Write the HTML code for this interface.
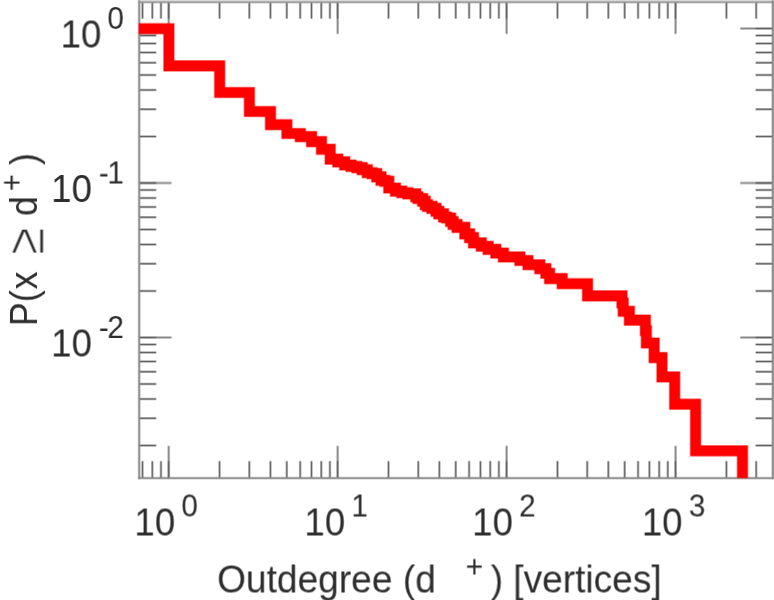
<!DOCTYPE html>
<html lang="en">
<head>
<meta charset="utf-8">
<title>Outdegree distribution</title>
<style>
html, body { margin: 0; padding: 0; background: #ffffff; }
body { width: 774px; height: 600px; overflow: hidden; }
svg { display: block; }
</style>
</head>
<body>
<svg width="774" height="600" viewBox="0 0 774 600">
<defs><clipPath id="plot"><rect x="138.6" y="1.6" width="634.0000000000001" height="476.5"/></clipPath></defs>
<rect x="0" y="0" width="774" height="600" fill="#ffffff"/>
<g id="chart" transform="translate(-0.4 -0.4)">
<rect x="-2" y="-2" width="778" height="604" fill="#ffffff"/>
<path d="M168.70 478.1 V445.80M168.70 1.6 V33.90M337.65 478.1 V445.80M337.65 1.6 V33.90M506.60 478.1 V445.80M506.60 1.6 V33.90M675.55 478.1 V445.80M675.55 1.6 V33.90M139.2 337.50 H171.50M772.6 337.50 H740.30M139.2 183.00 H171.50M772.6 183.00 H740.30M139.2 28.50 H171.50M772.6 28.50 H740.30" fill="none" stroke="#888888" stroke-width="2.0"/>
<path d="M142.53 478.1 V461.10M142.53 1.6 V18.60M152.33 478.1 V461.10M152.33 1.6 V18.60M160.97 478.1 V461.10M160.97 1.6 V18.60M168.70 478.1 V461.10M168.70 1.6 V18.60M219.56 478.1 V461.10M219.56 1.6 V18.60M249.31 478.1 V461.10M249.31 1.6 V18.60M270.42 478.1 V461.10M270.42 1.6 V18.60M286.79 478.1 V461.10M286.79 1.6 V18.60M300.17 478.1 V461.10M300.17 1.6 V18.60M311.48 478.1 V461.10M311.48 1.6 V18.60M321.28 478.1 V461.10M321.28 1.6 V18.60M329.92 478.1 V461.10M329.92 1.6 V18.60M337.65 478.1 V461.10M337.65 1.6 V18.60M388.51 478.1 V461.10M388.51 1.6 V18.60M418.26 478.1 V461.10M418.26 1.6 V18.60M439.37 478.1 V461.10M439.37 1.6 V18.60M455.74 478.1 V461.10M455.74 1.6 V18.60M469.12 478.1 V461.10M469.12 1.6 V18.60M480.43 478.1 V461.10M480.43 1.6 V18.60M490.23 478.1 V461.10M490.23 1.6 V18.60M498.87 478.1 V461.10M498.87 1.6 V18.60M506.60 478.1 V461.10M506.60 1.6 V18.60M557.46 478.1 V461.10M557.46 1.6 V18.60M587.21 478.1 V461.10M587.21 1.6 V18.60M608.32 478.1 V461.10M608.32 1.6 V18.60M624.69 478.1 V461.10M624.69 1.6 V18.60M638.07 478.1 V461.10M638.07 1.6 V18.60M649.38 478.1 V461.10M649.38 1.6 V18.60M659.18 478.1 V461.10M659.18 1.6 V18.60M667.82 478.1 V461.10M667.82 1.6 V18.60M675.55 478.1 V461.10M675.55 1.6 V18.60M726.41 478.1 V461.10M726.41 1.6 V18.60M756.16 478.1 V461.10M756.16 1.6 V18.60M139.2 445.49 H156.20M772.6 445.49 H755.60M139.2 418.28 H156.20M772.6 418.28 H755.60M139.2 398.98 H156.20M772.6 398.98 H755.60M139.2 384.01 H156.20M772.6 384.01 H755.60M139.2 371.78 H156.20M772.6 371.78 H755.60M139.2 361.43 H156.20M772.6 361.43 H755.60M139.2 352.47 H156.20M772.6 352.47 H755.60M139.2 344.57 H156.20M772.6 344.57 H755.60M139.2 337.50 H156.20M772.6 337.50 H755.60M139.2 290.99 H156.20M772.6 290.99 H755.60M139.2 263.78 H156.20M772.6 263.78 H755.60M139.2 244.48 H156.20M772.6 244.48 H755.60M139.2 229.51 H156.20M772.6 229.51 H755.60M139.2 217.28 H156.20M772.6 217.28 H755.60M139.2 206.93 H156.20M772.6 206.93 H755.60M139.2 197.97 H156.20M772.6 197.97 H755.60M139.2 190.07 H156.20M772.6 190.07 H755.60M139.2 183.00 H156.20M772.6 183.00 H755.60M139.2 136.49 H156.20M772.6 136.49 H755.60M139.2 109.28 H156.20M772.6 109.28 H755.60M139.2 89.98 H156.20M772.6 89.98 H755.60M139.2 75.01 H156.20M772.6 75.01 H755.60M139.2 62.78 H156.20M772.6 62.78 H755.60M139.2 52.43 H156.20M772.6 52.43 H755.60M139.2 43.47 H156.20M772.6 43.47 H755.60M139.2 35.57 H156.20M772.6 35.57 H755.60M139.2 28.50 H156.20M772.6 28.50 H755.60" fill="none" stroke="#606060" stroke-width="1.7"/>
<rect x="138.00" y="0" width="636.00" height="1.7" fill="#d0d0d0"/>
<g stroke="#8a8a8a" fill="none">
<path d="M139.2 0.4 V479.20" stroke-width="2.1"/>
<path d="M138.20 478.1 H774" stroke-width="2.1"/>
<path d="M138.20 2.25 H774" stroke-width="1.6" stroke="#999999"/>
<path d="M773.0 0.4 V479.20" stroke-width="2.6" stroke="#8e8e8e"/>
</g>
<g clip-path="url(#plot)"><path d="M133.20 28.70 L168.90 28.70 L168.90 65.90 L219.70 65.90 L219.70 92.50 L249.40 92.50 L249.40 111.50 L270.50 111.50 L270.50 124.70 L286.90 124.70 L286.90 133.50 L300.30 133.50 L300.30 136.60 L311.60 136.60 L311.60 141.60 L321.50 141.60 L321.50 149.30 L330.20 149.30 L330.20 159.10 L337.80 159.10 L337.80 161.90 L344.70 161.90 L344.70 165.00 L351.00 165.00 L351.00 166.45 L356.90 166.45 L356.90 167.60 L362.20 167.60 L362.20 169.70 L367.30 169.70 L367.30 172.70 L372.00 172.70 L372.00 173.60 L376.70 173.60 L376.70 176.90 L381.00 176.90 L381.00 180.30 L384.80 180.30 L384.80 181.30 L388.80 181.30 L388.80 188.00 L395.50 188.00 L395.50 191.15 L401.70 191.15 L401.70 192.70 L407.90 192.70 L407.90 193.90 L415.80 193.90 L415.80 196.80 L418.00 196.80 L418.00 198.50 L422.60 198.50 L422.60 201.20 L425.20 201.20 L425.20 204.65 L427.50 204.65 L427.50 206.40 L432.00 206.40 L432.00 208.40 L436.10 208.40 L436.10 211.30 L438.90 211.30 L438.90 213.85 L443.55 213.85 L443.55 217.00 L446.50 217.00 L446.50 218.00 L450.60 218.00 L450.60 221.50 L453.15 221.50 L453.15 224.50 L457.05 224.50 L457.05 227.35 L464.85 227.35 L464.85 233.90 L469.60 233.90 L469.60 237.60 L473.50 237.60 L473.50 242.90 L481.30 242.90 L481.30 246.25 L488.15 246.25 L488.15 249.40 L495.85 249.40 L495.85 253.05 L503.40 253.05 L503.40 256.95 L519.90 256.95 L519.90 260.50 L528.00 260.50 L528.00 264.75 L539.80 264.75 L539.80 268.65 L545.90 268.65 L545.90 273.25 L549.60 273.25 L549.60 278.60 L562.20 278.60 L562.20 283.70 L587.55 283.70 L587.55 295.90 L622.00 295.90 L622.00 303.00 L623.20 303.00 L623.20 311.30 L629.40 311.30 L629.40 320.10 L645.40 320.10 L645.40 330.70 L646.40 330.70 L646.40 343.00 L654.15 343.00 L654.15 357.60 L662.00 357.60 L662.00 376.95 L674.70 376.95 L674.70 404.20 L695.60 404.20 L695.60 450.80 L742.50 450.80 L742.50 488.10" fill="none" stroke="#ff0000" stroke-width="10.9" stroke-linejoin="miter" stroke-linecap="butt"/></g>
<g fill="#2e2e2e" font-family="'Liberation Sans', sans-serif">
<text transform="scale(0.965 1.01)"><tspan x="62.81" y="47.13" font-size="38.0">10</tspan><tspan x="111.19" y="28.71" font-size="30.8">0</tspan></text>
<text transform="scale(0.965 1.01)"><tspan x="53.07" y="200.10" font-size="38.0">10</tspan><tspan x="102.38" y="181.68" font-size="30.8">-</tspan><tspan x="111.19" y="181.68" font-size="30.8">1</tspan></text>
<text transform="scale(0.965 1.01)"><tspan x="53.07" y="353.07" font-size="38.0">10</tspan><tspan x="102.38" y="334.65" font-size="30.8">-</tspan><tspan x="111.19" y="334.65" font-size="30.8">2</tspan></text>
<text transform="scale(0.965 1.01)"><tspan x="139.29" y="530.10" font-size="38.0">10</tspan><tspan x="187.98" y="511.78" font-size="30.8">0</tspan></text>
<text transform="scale(0.965 1.01)"><tspan x="315.45" y="530.10" font-size="38.0">10</tspan><tspan x="364.15" y="511.78" font-size="30.8">1</tspan></text>
<text transform="scale(0.965 1.01)"><tspan x="489.34" y="530.10" font-size="38.0">10</tspan><tspan x="538.03" y="511.78" font-size="30.8">2</tspan></text>
<text transform="scale(0.965 1.01)"><tspan x="665.09" y="530.10" font-size="38.0">10</tspan><tspan x="713.78" y="511.78" font-size="30.8">3</tspan></text>
<text transform="scale(0.99 1.015)"><tspan x="219.30" y="583.84" font-size="37.5">Outdegree </tspan><tspan x="406.97" y="583.84" font-size="37.5">(d</tspan><tspan x="470.43" y="568.67" font-size="30.4">+</tspan><tspan x="495.73" y="583.84" font-size="37.5">) </tspan><tspan x="518.45" y="583.84" font-size="37.5">[vertices]</tspan></text>
<text transform="translate(37.1 323.3) rotate(-90) scale(0.95 1.02)"><tspan x="-3.08" y="0.00" font-size="37.5">P</tspan><tspan x="22.31" y="0.00" font-size="37.5">(</tspan><tspan x="35.80" y="0.00" font-size="37.5">x </tspan><tspan x="72.13" y="6.57" font-size="52" stroke="#ffffff" stroke-width="0.9">≥ </tspan><tspan x="112.95" y="0.00" font-size="37.5">d</tspan><tspan x="139.25" y="-14.41" font-size="30.4">+</tspan><tspan x="166.62" y="0.00" font-size="37.5">)</tspan></text>
</g>
</g>
<use href="#chart" transform="translate(0.8 0)" opacity="0.5"/>
<use href="#chart" transform="translate(0 0.8)" opacity="0.3333"/>
<use href="#chart" transform="translate(0.8 0.8)" opacity="0.25"/>
</svg>
</body>
</html>
